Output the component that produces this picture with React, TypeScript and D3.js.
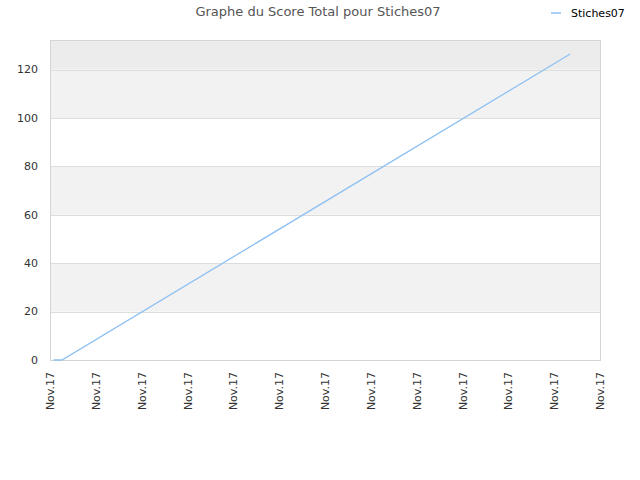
import * as d3 from 'd3'
import React from 'react'

const title = 'Graphe du Score Total pour Stiches07'
const seriesName = 'Stiches07'
const tickLabels = ['Nov.17', 'Nov.17', 'Nov.17', 'Nov.17', 'Nov.17', 'Nov.17', 'Nov.17', 'Nov.17', 'Nov.17', 'Nov.17', 'Nov.17', 'Nov.17', 'Nov.17']
// position along the x axis (in tick units) and total score
const pointX = [0.08, 0.26, 11.35]
const pointScore = [0, 0, 126.4]
const yTicks = [0, 20, 40, 60, 80, 100, 120]
const yMax = 132.2

export default function App() {
  const width = 640
  const height = 480
  const left = 50
  const right = 600
  const top = 40
  const bottom = 360

  const x = d3.scaleLinear().domain([0, tickLabels.length - 1]).range([left, right])
  const y = d3.scaleLinear().domain([0, yMax]).range([bottom, top])

  const data = pointX.map((v, i) => ({ x: v, y: pointScore[i] }))
  const line = d3
    .line<{ x: number; y: number }>()
    .x(d => x(d.x))
    .y(d => y(d.y))

  const bands: [number, number, string][] = []
  for (let i = 0; i < yTicks.length; i++) {
    const lo = yTicks[i]
    const hi = i + 1 < yTicks.length ? yTicks[i + 1] : yMax
    if (i === yTicks.length - 1) bands.push([lo, hi, '#ececec'])
    else if (i % 2 === 1) bands.push([lo, hi, '#f2f2f2'])
  }

  return (
    <svg
      width={width}
      height={height}
      style={{ position: 'absolute', left: 0, top: 0, fontFamily: 'DejaVu Sans, sans-serif' }}
    >
      <rect width={width} height={height} fill="#fff" />
      {bands.map(([lo, hi, c], i) => (
        <rect key={i} x={left} y={y(hi)} width={right - left} height={y(lo) - y(hi)} fill={c} />
      ))}
      {yTicks.map(t => (
        <g key={t}>
          <line x1={left} x2={right} y1={Math.round(y(t)) + 0.5} y2={Math.round(y(t)) + 0.5} stroke="#dddddd" />
          <text x={left - 12} y={y(t)} dy="0.35em" textAnchor="end" fontSize={11} fill="#333">
            {t}
          </text>
        </g>
      ))}
      <rect
        x={left + 0.5}
        y={top + 0.5}
        width={right - left}
        height={bottom - top}
        fill="none"
        stroke="#d5d5d5"
      />
      <path d={line(data) ?? ''} fill="none" stroke="#8fc0f3" strokeWidth={1.3} />
      {tickLabels.map((t, i) => (
        <text
          key={i}
          transform={`translate(${x(i) + 4},${bottom + 12}) rotate(-90)`}
          textAnchor="end"
          fontSize={11}
          fill="#333"
        >
          {t}
        </text>
      ))}
      <text x={318} y={16} textAnchor="middle" fontSize={13} fill="#555">
        {title}
      </text>
      <line x1={551} x2={561} y1={13} y2={13} stroke="#8fc0f3" strokeWidth={1.5} />
      <text x={571} y={13} dy="0.35em" fontSize={11} fill="#000">
        {seriesName}
      </text>
    </svg>
  )
}
